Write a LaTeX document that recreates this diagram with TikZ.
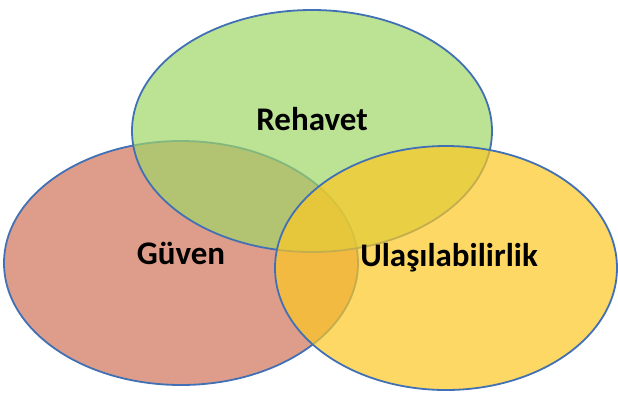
\documentclass[tikz,border=0pt]{standalone}
\usepackage{fontspec}
\setmainfont{Carlito}
\definecolor{rehavetgreen}{RGB}{159,213,102}
\definecolor{guvenred}{RGB}{208,114,89}
\definecolor{ulasyellow}{RGB}{252,199,34}
\definecolor{edgeblue}{RGB}{65,113,180}
\tikzset{
	set/.style={draw=edgeblue, line width=1.8pt, fill opacity=0.7},
	setlabel/.style={anchor=base, font=\fontsize{33}{40}\selectfont\bfseries, text=black}
}
\begin{document}
\begin{tikzpicture}[x=1pt,y=-1pt]
	\useasboundingbox (0,0) rectangle (618,392);

	% three sets, drawn red, green, yellow
	\draw[set, fill=guvenred] (181,263) ellipse [x radius=177, y radius=122];
	\draw[set, fill=rehavetgreen] (312,131) ellipse [x radius=180, y radius=121];
	\draw[set, fill=ulasyellow] (446,268) ellipse [x radius=171, y radius=122];

	% labels
	\node[setlabel] (rehavet) at (312,130) {Rehavet};
	\node[setlabel] (guven) at (181,264) {Güven};
	\node[setlabel] (ulas) at (449,266) {Ulaşılabilirlik};
\end{tikzpicture}
\end{document}
